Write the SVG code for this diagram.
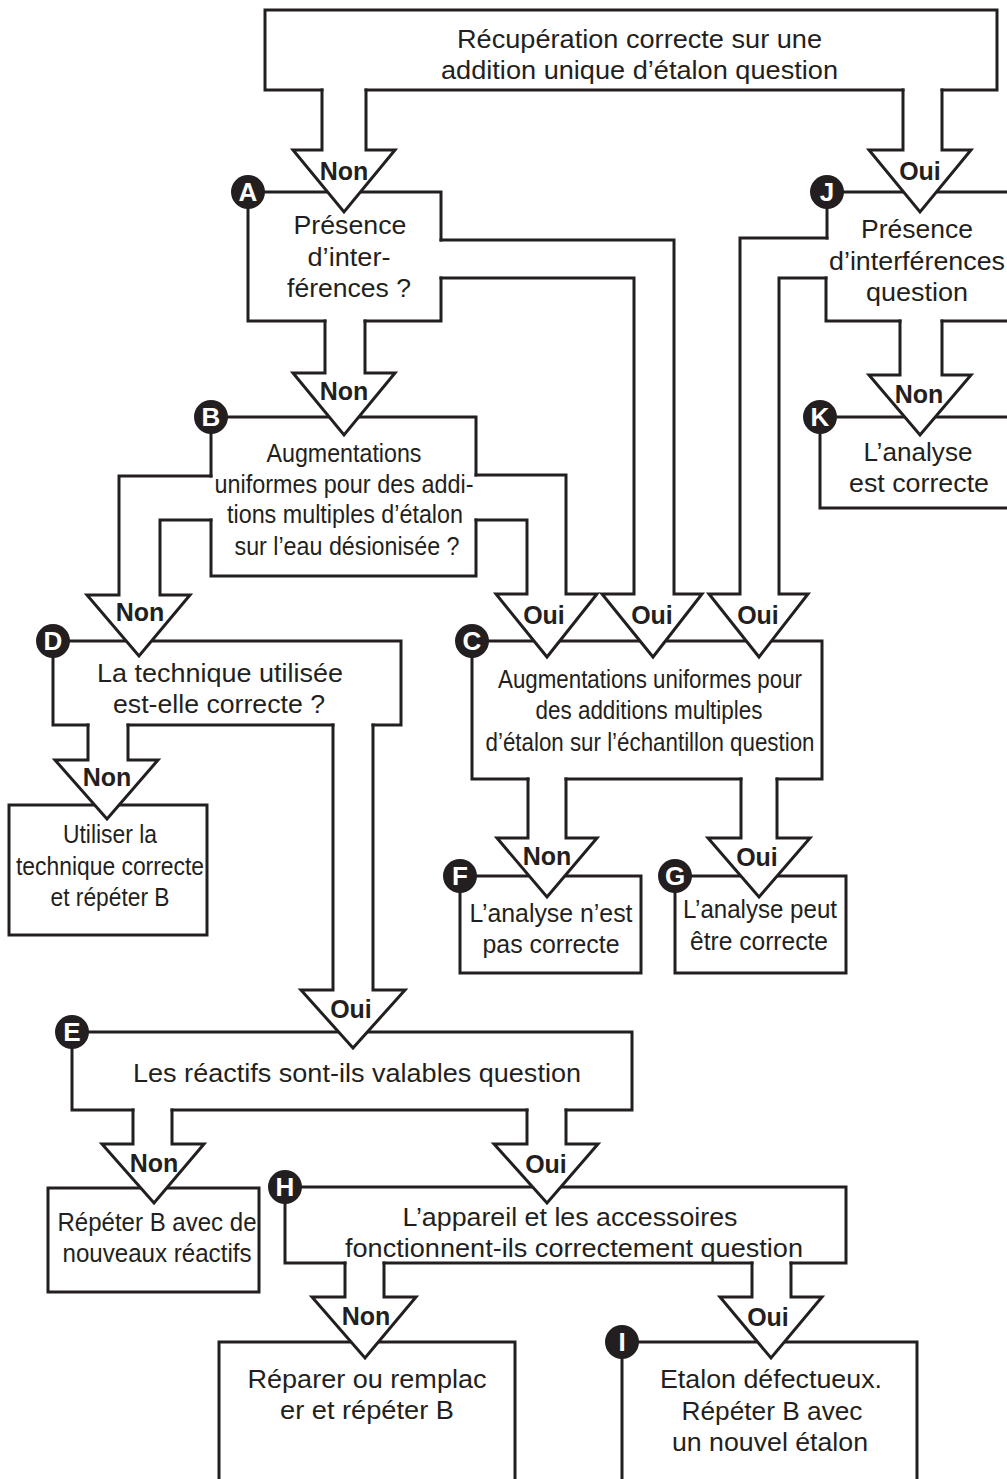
<svg xmlns="http://www.w3.org/2000/svg" width="1007" height="1479" viewBox="0 0 1007 1479">
<style>
.ln{fill:none;stroke:#231f20;stroke-width:3;stroke-linecap:square;stroke-linejoin:miter}
.ah{fill:#fff;stroke:none}
.t{font-family:"Liberation Sans",Arial,sans-serif;font-size:26px;fill:#231f20;text-anchor:middle}
.lb{font-family:"Liberation Sans",Arial,sans-serif;font-size:25px;font-weight:bold;fill:#231f20;text-anchor:middle}
.cc{fill:#231f20}
.cl{font-family:"Liberation Sans",Arial,sans-serif;font-size:26px;font-weight:bold;fill:#fff;text-anchor:middle}
</style>
<rect width="1007" height="1479" fill="#fff"/>

<g id="node-top">
<path class="ln" d="M322,90 H265 V10 H997 V90 H942 M366,90 H903"/>
<text class="t" x="639.5" y="48" textLength="365" lengthAdjust="spacingAndGlyphs">Récupération correcte sur une</text>
<text class="t" x="639.5" y="79" textLength="397" lengthAdjust="spacingAndGlyphs">addition unique d’étalon question</text>
</g>

<g id="node-A">
<path class="ln" d="M441,240 V192 H248 V321 H325 M365,321 H441 V278"/>
<text class="t" x="350" y="234" textLength="113" lengthAdjust="spacingAndGlyphs">Présence</text>
<text class="t" x="349" y="266" textLength="83" lengthAdjust="spacingAndGlyphs">d’inter-</text>
<text class="t" x="349" y="297" textLength="124" lengthAdjust="spacingAndGlyphs">férences ?</text>
<circle class="cc" cx="248" cy="192" r="17"/><text class="cl" x="248" y="201">A</text>
</g>

<g id="node-J">
<path class="ln" d="M1010,192 H827 V238 M826,278 V321 H900 M942,321 H1010"/>
<text class="t" x="917" y="238" textLength="112" lengthAdjust="spacingAndGlyphs">Présence</text>
<text class="t" x="917" y="270" textLength="176" lengthAdjust="spacingAndGlyphs">d’interférences</text>
<text class="t" x="917" y="301" textLength="102" lengthAdjust="spacingAndGlyphs">question</text>
<circle class="cc" cx="827" cy="192" r="17"/><text class="cl" x="827" y="201">J</text>
</g>

<g id="node-K">
<path class="ln" d="M1010,417 H820 V508 H1010"/>
<text class="t" x="918" y="461" textLength="109" lengthAdjust="spacingAndGlyphs">L’analyse</text>
<text class="t" x="919" y="492" textLength="140" lengthAdjust="spacingAndGlyphs">est correcte</text>
<circle class="cc" cx="820" cy="417" r="17"/><text class="cl" x="820" y="426">K</text>
</g>

<g id="node-B">
<path class="ln" d="M211,476 V417 H476 V475 M476,520 V576 H211 V520"/>
<text class="t" x="344" y="462" textLength="155" lengthAdjust="spacingAndGlyphs">Augmentations</text>
<text class="t" x="344" y="493" textLength="259" lengthAdjust="spacingAndGlyphs">uniformes pour des addi-</text>
<text class="t" x="345" y="523" textLength="236" lengthAdjust="spacingAndGlyphs">tions multiples d’étalon</text>
<text class="t" x="347" y="555" textLength="225" lengthAdjust="spacingAndGlyphs">sur l’eau désionisée ?</text>
<circle class="cc" cx="211" cy="417" r="17"/><text class="cl" x="211" y="426">B</text>
</g>

<g id="node-D">
<path class="ln" d="M373,725 H401 V641 H53 V725 H88 M128,725 H333"/>
<text class="t" x="220" y="682" textLength="246" lengthAdjust="spacingAndGlyphs">La technique utilisée</text>
<text class="t" x="219" y="713" textLength="212" lengthAdjust="spacingAndGlyphs">est-elle correcte ?</text>
<circle class="cc" cx="53" cy="641" r="17"/><text class="cl" x="53" y="650">D</text>
</g>

<g id="node-utiliser">
<rect class="ln" x="9" y="805" width="198" height="130"/>
<text class="t" x="110" y="843" textLength="94" lengthAdjust="spacingAndGlyphs">Utiliser la</text>
<text class="t" x="110" y="875" textLength="188" lengthAdjust="spacingAndGlyphs">technique correcte</text>
<text class="t" x="110" y="906" textLength="119" lengthAdjust="spacingAndGlyphs">et répéter B</text>
</g>

<g id="node-C">
<path class="ln" d="M528,779 H472 V641 H822 V779 H777 M741,779 H566"/>
<text class="t" x="650" y="688" textLength="304" lengthAdjust="spacingAndGlyphs">Augmentations uniformes pour</text>
<text class="t" x="649" y="719" textLength="227" lengthAdjust="spacingAndGlyphs">des additions multiples</text>
<text class="t" x="650" y="751" textLength="329" lengthAdjust="spacingAndGlyphs">d’étalon sur l’échantillon question</text>
<circle class="cc" cx="472" cy="641" r="17"/><text class="cl" x="472" y="650">C</text>
</g>

<g id="node-F">
<rect class="ln" x="460" y="876" width="181" height="97"/>
<text class="t" x="551" y="922" textLength="163" lengthAdjust="spacingAndGlyphs">L’analyse n’est</text>
<text class="t" x="551" y="953" textLength="137" lengthAdjust="spacingAndGlyphs">pas correcte</text>
<circle class="cc" cx="460" cy="876" r="17"/><text class="cl" x="460" y="885">F</text>
</g>

<g id="node-G">
<rect class="ln" x="675" y="876" width="171" height="97"/>
<text class="t" x="760" y="918" textLength="154" lengthAdjust="spacingAndGlyphs">L’analyse peut</text>
<text class="t" x="759" y="950" textLength="138" lengthAdjust="spacingAndGlyphs">être correcte</text>
<circle class="cc" cx="675" cy="876" r="17"/><text class="cl" x="675" y="885">G</text>
</g>

<g id="node-E">
<path class="ln" d="M566,1110 H632 V1032 H72 V1110 H133 M172,1110 H527"/>
<text class="t" x="357" y="1082" textLength="448" lengthAdjust="spacingAndGlyphs">Les réactifs sont-ils valables question</text>
<circle class="cc" cx="72" cy="1032" r="17"/><text class="cl" x="72" y="1041">E</text>
</g>

<g id="node-repeter">
<rect class="ln" x="48" y="1188" width="211" height="104"/>
<text class="t" x="157" y="1231" textLength="199" lengthAdjust="spacingAndGlyphs">Répéter B avec de</text>
<text class="t" x="157" y="1262" textLength="189" lengthAdjust="spacingAndGlyphs">nouveaux réactifs</text>
</g>

<g id="node-H">
<path class="ln" d="M345,1263 H285 V1187 H846 V1263 H791 M752,1263 H384"/>
<text class="t" x="570" y="1226" textLength="335" lengthAdjust="spacingAndGlyphs">L’appareil et les accessoires</text>
<text class="t" x="574" y="1257" textLength="458" lengthAdjust="spacingAndGlyphs">fonctionnent-ils correctement question</text>
<circle class="cc" cx="285" cy="1187" r="17"/><text class="cl" x="285" y="1196">H</text>
</g>

<g id="node-reparer">
<path class="ln" d="M219,1490 V1342 H515 V1490"/>
<text class="t" x="367" y="1388" textLength="239" lengthAdjust="spacingAndGlyphs">Réparer ou remplac</text>
<text class="t" x="367" y="1419" textLength="174" lengthAdjust="spacingAndGlyphs">er et répéter B</text>
</g>

<g id="node-I">
<path class="ln" d="M622,1490 V1342 H917 V1490"/>
<text class="t" x="771" y="1388" textLength="222" lengthAdjust="spacingAndGlyphs">Etalon défectueux.</text>
<text class="t" x="772" y="1420" textLength="181" lengthAdjust="spacingAndGlyphs">Répéter B avec</text>
<text class="t" x="770" y="1451" textLength="196" lengthAdjust="spacingAndGlyphs">un nouvel étalon</text>
<circle class="cc" cx="622" cy="1342" r="17"/><text class="cl" x="622" y="1351">I</text>
</g>

<g id="connectors">
<!-- top -> A -->
<path class="ah" d="M293,150 L344,212 L395,150 Z"/>
<path class="ln" d="M322,90 V150 H293 L344,212 L395,150 H366 V90"/>
<text class="lb" x="344" y="180">Non</text>
<!-- top -> J -->
<path class="ah" d="M869,150 L920,212 L971,150 Z"/>
<path class="ln" d="M903,90 V150 H869 L920,212 L971,150 H942 V90"/>
<text class="lb" x="920" y="180">Oui</text>
<!-- A -> B -->
<path class="ah" d="M293,373 L344,435 L395,373 Z"/>
<path class="ln" d="M325,321 V373 H293 L344,435 L395,373 H365 V321"/>
<text class="lb" x="344" y="400">Non</text>
<!-- A -> C -->
<path class="ah" d="M602,594 L653,657 L702,594 Z"/>
<path class="ln" d="M441,278 H634 V594 H602 L653,657 L702,594 H674 V240 H441"/>
<text class="lb" x="652" y="624">Oui</text>
<!-- J -> C -->
<path class="ah" d="M709,594 L759,657 L808,594 Z"/>
<path class="ln" d="M827,238 H740 V594 H709 L759,657 L808,594 H779 V278 H826"/>
<text class="lb" x="758" y="624">Oui</text>
<!-- J -> K -->
<path class="ah" d="M869,375 L920,435 L971,375 Z"/>
<path class="ln" d="M900,321 V375 H869 L920,435 L971,375 H942 V321"/>
<text class="lb" x="919" y="403">Non</text>
<!-- B -> C -->
<path class="ah" d="M496,594 L547,657 L597,594 Z"/>
<path class="ln" d="M476,520 H527 V594 H496 L547,657 L597,594 H566 V475 H476"/>
<text class="lb" x="544" y="624">Oui</text>
<!-- B -> D -->
<path class="ah" d="M87,595 L139,656 L190,595 Z"/>
<path class="ln" d="M211,476 H119 V595 H87 L139,656 L190,595 H160 V520 H211"/>
<text class="lb" x="140" y="621">Non</text>
<!-- D -> Utiliser -->
<path class="ah" d="M55,760 L107,819 L158,760 Z"/>
<path class="ln" d="M88,725 V760 H55 L107,819 L158,760 H128 V725"/>
<text class="lb" x="107" y="786">Non</text>
<!-- D -> E -->
<path class="ah" d="M301,990 L353,1048 L405,990 Z"/>
<path class="ln" d="M333,725 V990 H301 L353,1048 L405,990 H373 V725"/>
<text class="lb" x="351" y="1018">Oui</text>
<!-- C -> F -->
<path class="ah" d="M497,838 L547,897 L597,838 Z"/>
<path class="ln" d="M528,779 V838 H497 L547,897 L597,838 H566 V779"/>
<text class="lb" x="547" y="865">Non</text>
<!-- C -> G -->
<path class="ah" d="M708,838 L759,897 L810,838 Z"/>
<path class="ln" d="M741,779 V838 H708 L759,897 L810,838 H777 V779"/>
<text class="lb" x="757" y="866">Oui</text>
<!-- E -> Repeter -->
<path class="ah" d="M102,1144 L154,1203 L204,1144 Z"/>
<path class="ln" d="M133,1110 V1144 H102 L154,1203 L204,1144 H172 V1110"/>
<text class="lb" x="154" y="1172">Non</text>
<!-- E -> H -->
<path class="ah" d="M494,1144 L547,1203 L598,1144 Z"/>
<path class="ln" d="M527,1110 V1144 H494 L547,1203 L598,1144 H566 V1110"/>
<text class="lb" x="546" y="1173">Oui</text>
<!-- H -> Reparer -->
<path class="ah" d="M312,1297 L365,1358 L416,1297 Z"/>
<path class="ln" d="M345,1263 V1297 H312 L365,1358 L416,1297 H384 V1263"/>
<text class="lb" x="366" y="1325">Non</text>
<!-- H -> I -->
<path class="ah" d="M720,1297 L771,1358 L822,1297 Z"/>
<path class="ln" d="M752,1263 V1297 H720 L771,1358 L822,1297 H791 V1263"/>
<text class="lb" x="768" y="1326">Oui</text>
</g>
</svg>
